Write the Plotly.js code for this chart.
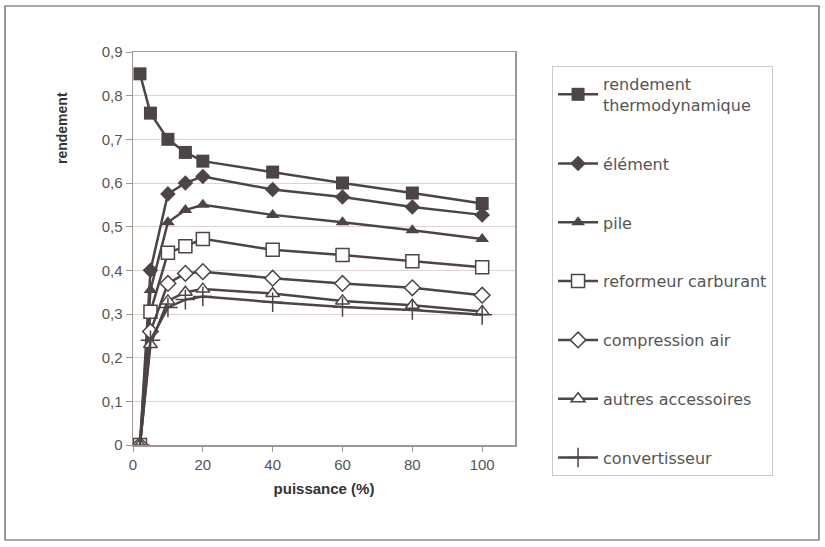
<!DOCTYPE html>
<html>
<head>
<meta charset="utf-8">
<script src="https://cdn.plot.ly/plotly-3.0.1.min.js"></script>
<style>html,body{margin:0;padding:0;background:#fff}#chart{width:825px;height:547px}</style>
</head>
<body>
<div id="chart"></div>
<script>
// Data
const puissance = [2, 5, 10, 15, 20, 40, 60, 80, 100];
const seriesNames = [
  "rendement<br>thermodynamique",
  "élément",
  "pile",
  "reformeur carburant",
  "compression air",
  "autres accessoires",
  "convertisseur"
];
const rendementThermo = [0.85, 0.76, 0.70, 0.67, 0.65, 0.625, 0.60, 0.577, 0.553];
const element        = [0.00, 0.40, 0.575, 0.60, 0.615, 0.585, 0.568, 0.545, 0.527];
const pile           = [0.00, 0.355, 0.51, 0.538, 0.55, 0.527, 0.51, 0.492, 0.472];
const reformeur      = [0.00, 0.305, 0.44, 0.455, 0.472, 0.447, 0.435, 0.421, 0.407];
const compression    = [0.00, 0.26, 0.37, 0.393, 0.397, 0.382, 0.37, 0.36, 0.343];
const autres         = [0.00, 0.23, 0.33, 0.35, 0.357, 0.347, 0.33, 0.32, 0.306];
const convertisseur  = [0.00, 0.24, 0.315, 0.333, 0.34, 0.327, 0.316, 0.309, 0.298];
const yTicks = [0, 0.1, 0.2, 0.3, 0.4, 0.5, 0.6, 0.7, 0.8, 0.9];
const yTickText = ["0", "0,1", "0,2", "0,3", "0,4", "0,5", "0,6", "0,7", "0,8", "0,9"];
const xTicks = [0, 20, 40, 60, 80, 100];

const allSeries = [rendementThermo, element, pile, reformeur, compression, autres, convertisseur];
const dark = "#4d4545";
const symbols = ["square", "diamond", "triangle-up", "square", "diamond", "triangle-up", "cross-thin-open"];
const fills = [dark, dark, dark, "#ffffff", "#ffffff", "#ffffff", dark];
const outline = [0, 0, 0, 1.5, 1.5, 1.5, 1.5];
const sizes = [13, 12, 12, 13, 12, 12, 14];

const traces = allSeries.map((vals, i) => ({
  x: puissance,
  y: vals,
  name: seriesNames[i],
  legendgroup: "g" + i,
  type: "scatter",
  mode: "lines+markers",
  line: {color: dark, width: 2.5},
  marker: {
    symbol: symbols[i],
    size: sizes[i],
    color: fills[i],
    line: {color: dark, width: outline[i]}
  }
}));

const font = {family: "Liberation Sans, Arial, sans-serif", size: 13, color: "#444"};

const layout = {
  width: 825,
  height: 547,
  margin: {l: 133, r: 310, t: 52, b: 102},
  paper_bgcolor: "#ffffff",
  plot_bgcolor: "#ffffff",
  font: font,
  showlegend: true,
  legend: {
    x: 1.097, y: (445 - 66) / 393, xanchor: "left", yanchor: "top",
    bordercolor: "#cfc8c4", borderwidth: 1,
    font: {family: "DejaVu Sans, sans-serif", size: 16, color: "#555"},
    tracegroupgap: 35,
    itemwidth: 40,
    traceorder: "grouped",
    maxheight: 480
  },
  xaxis: {
    range: [0, 109.4],
    tickvals: xTicks,
    ticks: "outside", ticklen: 5, tickcolor: "#a09690",
    showgrid: false,
    showline: true, linecolor: "#a09690", linewidth: 1.5,
    mirror: true,
    zeroline: false,
    tickfont: {family: font.family, size: 15, color: "#555"},
    title: {text: "<b>puissance (%)</b>", font: {family: font.family, size: 15, color: "#333"}, standoff: 12}
  },
  yaxis: {
    range: [0, 0.9],
    tickvals: yTicks,
    ticktext: yTickText,
    ticks: "outside", ticklen: 6, tickcolor: "#a09690",
    showgrid: true, gridcolor: "#ddd4cf", gridwidth: 1,
    showline: true, linecolor: "#a09690", linewidth: 1.5,
    mirror: true,
    zeroline: false,
    tickfont: {family: font.family, size: 15, color: "#555"}
  },
  annotations: [{
    text: "<b>rendement</b>",
    textangle: -90,
    xref: "paper", yref: "paper",
    x: (62 - 133) / 382, y: (445 - 128) / 393,
    xanchor: "center", yanchor: "middle",
    showarrow: false,
    font: {family: font.family, size: 14, color: "#333"}
  }],
  shapes: [{
    type: "rect", xref: "paper", yref: "paper",
    x0: (5 - 133) / 382, x1: (819 - 133) / 382,
    y0: (445 - 540) / 393, y1: (445 - 6) / 393,
    line: {color: "#555", width: 1.2}, fillcolor: "rgba(0,0,0,0)"
  }]
};

Plotly.newPlot("chart", traces, layout, {displayModeBar: false, staticPlot: true});
</script>
</body>
</html>
